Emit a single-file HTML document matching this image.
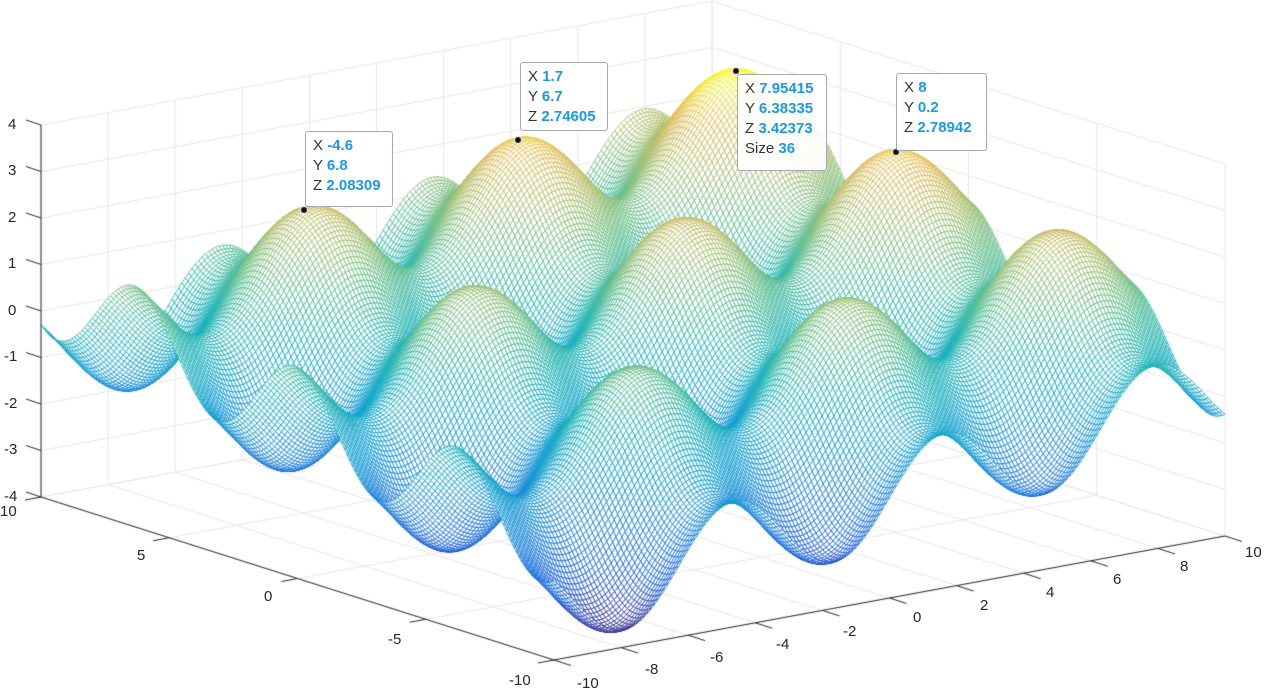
<!DOCTYPE html>
<html><head><meta charset="utf-8">
<style>
html,body{margin:0;padding:0;background:#fff;}
#wrap{position:relative;width:1267px;height:691px;overflow:hidden;font-family:"Liberation Sans",Arial,sans-serif;color:#262626;}
canvas{position:absolute;left:0;top:0;}
.t{position:absolute;font-size:15px;line-height:15px;white-space:nowrap;}
.tip{position:absolute;background:rgba(255,255,255,0.92);border:1px solid #a8a8b0;border-radius:3px;font-size:15px;line-height:20px;padding:4px 8px 3px 7px;box-sizing:border-box;color:#333;}
.tip b{color:#1a9ae6;font-weight:bold;}
</style></head><body>
<div id="wrap">
<canvas id="c" width="1267" height="691"></canvas>
<div class="t" style="left:8px;top:117px">4</div>
<div class="t" style="left:8px;top:163px">3</div>
<div class="t" style="left:8px;top:210px">2</div>
<div class="t" style="left:8px;top:256px">1</div>
<div class="t" style="left:8px;top:303px">0</div>
<div class="t" style="left:4px;top:349px">-1</div>
<div class="t" style="left:4px;top:396px">-2</div>
<div class="t" style="left:4px;top:442px">-3</div>
<div class="t" style="left:4px;top:489px">-4</div>
<div class="t" style="left:0px;top:504px">10</div>
<div class="t" style="left:137px;top:548px">5</div>
<div class="t" style="left:264px;top:589px">0</div>
<div class="t" style="left:388px;top:632px">-5</div>
<div class="t" style="left:509px;top:673px">-10</div>
<div class="t" style="left:577px;top:676px">-10</div>
<div class="t" style="left:645px;top:662px">-8</div>
<div class="t" style="left:710px;top:650px">-6</div>
<div class="t" style="left:776px;top:637px">-4</div>
<div class="t" style="left:843px;top:624px">-2</div>
<div class="t" style="left:913px;top:610px">0</div>
<div class="t" style="left:980px;top:598px">2</div>
<div class="t" style="left:1046px;top:585px">4</div>
<div class="t" style="left:1113px;top:572px">6</div>
<div class="t" style="left:1180px;top:559px">8</div>
<div class="t" style="left:1245px;top:545px">10</div>
<div class="tip" style="left:305px;top:131px;width:88px;height:76px">X <b>-4.6</b><br>Y <b>6.8</b><br>Z <b>2.08309</b></div>
<div class="tip" style="left:520px;top:62px;width:88px;height:69px">X <b>1.7</b><br>Y <b>6.7</b><br>Z <b>2.74605</b></div>
<div class="tip" style="left:737px;top:74px;width:90px;height:97px">X <b>7.95415</b><br>Y <b>6.38335</b><br>Z <b>3.42373</b><br>Size <b>36</b></div>
<div class="tip" style="left:896px;top:73px;width:91px;height:78px">X <b>8</b><br>Y <b>0.2</b><br>Z <b>2.78942</b></div>
</div>
<script>
(function(){
var c=document.getElementById('c'),g=c.getContext('2d');
function P(x,y,z){return [633+33.55*x-25.65*y,330.5-6.2*x-8.15*y-46.5*z];}
function line(a,b,col,w){g.strokeStyle=col;g.lineWidth=w;g.beginPath();g.moveTo(a[0],a[1]);g.lineTo(b[0],b[1]);g.stroke();}
var gc='#e6e6e6';
for(var z=-4;z<=4;z++){line(P(-10,10,z),P(10,10,z),gc,1);line(P(10,10,z),P(10,-10,z),gc,1);}
for(var x=-10;x<=10;x+=2){line(P(x,10,-4),P(x,10,4),gc,1);line(P(x,-10,-4),P(x,10,-4),gc,1);}
for(var y=-10;y<=10;y+=5){line(P(10,y,-4),P(10,y,4),gc,1);line(P(-10,y,-4),P(10,y,-4),gc,1);}
function f(x,y){return Math.sin(x)+Math.cos(y)+0.1*(x+y);}
var N=201,h=0.1,Z=[],S=[],zmin=1e9,zmax=-1e9;
for(var i=0;i<N;i++){Z[i]=[];S[i]=[];for(var j=0;j<N;j++){var xx=-10+i*h,yy=-10+j*h,zz=f(xx,yy);Z[i][j]=zz;S[i][j]=P(xx,yy,zz);if(zz<zmin)zmin=zz;if(zz>zmax)zmax=zz;}}
var st=[[53,42,135],[15,92,221],[18,125,216],[7,156,207],[21,177,180],[89,189,140],[165,190,107],[225,185,82],[249,251,14]];
function col(t){t=Math.max(0,Math.min(1,t))*8;var k=Math.min(7,Math.floor(t)),u=t-k,a=st[k],b=st[k+1];
return 'rgb('+Math.round(a[0]+(b[0]-a[0])*u)+','+Math.round(a[1]+(b[1]-a[1])*u)+','+Math.round(a[2]+(b[2]-a[2])*u)+')';}
var Q=[];
for(var i=0;i<N-1;i++)for(var j=0;j<N-1;j++){var xx=-10+(i+0.5)*h,yy=-10+(j+0.5)*h,zz=(Z[i][j]+Z[i+1][j]+Z[i][j+1]+Z[i+1][j+1])/4;
Q.push([1192.7*xx+1560.1*yy-432.5*zz,i,j,zz]);}
Q.sort(function(a,b){return b[0]-a[0];});
g.lineWidth=0.8;g.fillStyle='#fff';
for(var q=0;q<Q.length;q++){var i=Q[q][1],j=Q[q][2],a=S[i][j],b=S[i+1][j],cc=S[i+1][j+1],d=S[i][j+1];
g.beginPath();g.moveTo(a[0],a[1]);g.lineTo(b[0],b[1]);g.lineTo(cc[0],cc[1]);g.lineTo(d[0],d[1]);g.closePath();
g.fill();g.strokeStyle=col((Q[q][3]-zmin)/(zmax-zmin));g.stroke();}
var ac='#262626';
line(P(-10,10,-4),P(-10,10,4),ac,1);
line(P(-10,10,-4),P(-10,-10,-4),ac,1);
line(P(-10,-10,-4),P(10,-10,-4),ac,1);
for(var z=-4;z<=4;z++){var p=P(-10,10,z);line(p,[p[0]-15,p[1]-5],ac,1);}
for(var y=-10;y<=10;y+=5){var p=P(-10,y,-4);line(p,[p[0]-16,p[1]+3],ac,1);}
for(var x=-10;x<=10;x+=2){var p=P(x,-10,-4);line(p,[p[0]+17,p[1]+5.5],ac,1);}
[[304,210],[518,140],[736,71],[896,152]].forEach(function(m){g.beginPath();g.arc(m[0],m[1],4,0,7);g.fillStyle='#fff';g.fill();g.beginPath();g.arc(m[0],m[1],3,0,7);g.fillStyle='#111';g.fill();});
})();
</script>
</body></html>
